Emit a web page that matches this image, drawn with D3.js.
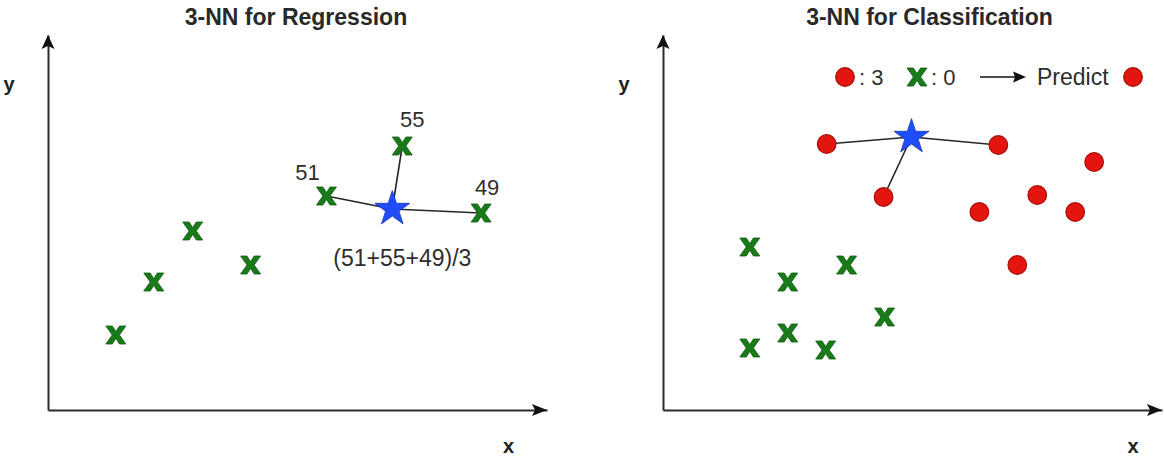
<!DOCTYPE html>
<html>
<head>
<meta charset="utf-8">
<script src="https://cdn.jsdelivr.net/npm/d3@7"></script>
<style>
  html, body { margin: 0; padding: 0; background: #fff; }
  svg { display: block; }
  text { font-family: "Liberation Sans", Arial, Helvetica, sans-serif; }
</style>
</head>
<body>
<svg id="chart" width="1164" height="458"></svg>
<script>
// ---- data -------------------------------------------------------------
const panelTitles = ["3-NN for Regression", "3-NN for Classification"];
const axisNames = ["x", "y"];

// regression panel: training points (green crosses) and the query (star)
const regX = [1.36, 2.12, 2.90, 4.06, 5.58, 7.10, 8.68];
const regY = [1.50, 2.56, 3.58, 2.90, 4.28, 5.28, 3.94];
const regNeighbours = [4, 5, 6];          // indices of the 3 nearest points
const regTargets = [51, 55, 49];          // target value of each neighbour
const regQuery = [6.90, 4.02];

// classification panel: class "x" (green) and class "o" (red)
const clsCrossX = [1.74, 2.50, 3.68, 4.44, 2.50, 1.74, 3.26];
const clsCrossY = [3.26, 2.56, 2.90, 1.86, 1.54, 1.24, 1.20];
const clsDotX = [3.28, 6.72, 4.42, 8.64, 7.50, 6.34, 8.26, 7.10];
const clsDotY = [5.32, 5.30, 4.26, 4.96, 4.30, 3.96, 3.96, 2.90];
const clsNeighbours = [0, 1, 2];          // indices of the 3 nearest red dots
const clsQuery = [4.98, 5.46];

// ---- styling ----------------------------------------------------------
const GREEN = "#187a18", GREEN_DARK = "#0f5c0f";
const RED = "#e3150e", RED_DARK = "#a80d08";
const BLUE = "#1f4dfb", BLUE_DARK = "#1535b8";
const AXIS = "#2a2a2a";
const TEXT = "#2e2e2e";

const svg = d3.select("#chart");

// bold "x" glyph-like cross, centred on 0,0
const crossPath = "M-10,-9H-3.6L0,-3.4L3.6,-9H10L3.6,0L10,9H3.6L0,3.4L-3.6,9H-10L-3.6,0Z";
const star = d3.symbol().type(d3.symbolStar).size(380)();

function drawCrosses(g, pts) {
  g.selectAll("path.cross").data(pts).join("path")
    .attr("class", "cross")
    .attr("d", crossPath)
    .attr("transform", d => `translate(${d[0]},${d[1]})`)
    .attr("fill", GREEN)
    .attr("stroke", GREEN_DARK)
    .attr("stroke-width", 0.8)
    .attr("stroke-linejoin", "round");
}

function drawDots(g, pts) {
  g.selectAll("circle.dot").data(pts).join("circle")
    .attr("class", "dot")
    .attr("cx", d => d[0]).attr("cy", d => d[1]).attr("r", 9.3)
    .attr("fill", RED).attr("stroke", RED_DARK).attr("stroke-width", 1.2);
}

function drawStar(g, p) {
  g.append("path").attr("d", star)
    .attr("transform", `translate(${p[0]},${p[1]})`)
    .attr("fill", BLUE).attr("stroke", BLUE_DARK).attr("stroke-width", 0.8);
}

function drawLinks(g, from, tos) {
  g.selectAll("line.link").data(tos).join("line")
    .attr("class", "link")
    .attr("x1", from[0]).attr("y1", from[1])
    .attr("x2", d => d[0]).attr("y2", d => d[1])
    .attr("stroke", "#262626").attr("stroke-width", 1.6);
}

// one panel with its own scales, axes, arrow heads and labels
function makePanel(left, title, titleAt, xLabelAt) {
  const x = d3.scaleLinear().domain([0, 10]).range([left, left + 499]);
  const y = d3.scaleLinear().domain([0, 7.5]).range([410, 35]);
  const g = svg.append("g");

  const xAxis = g.append("g").attr("transform", `translate(0,${y(0)})`)
    .call(d3.axisBottom(x).ticks(0).tickSize(0).tickSizeOuter(0));
  const yAxis = g.append("g").attr("transform", `translate(${x(0)},0)`)
    .call(d3.axisLeft(y).ticks(0).tickSize(0).tickSizeOuter(0));
  [xAxis, yAxis].forEach(a => {
    a.select(".domain").attr("stroke", AXIS).attr("stroke-width", 2);
    a.selectAll(".tick").remove();
  });

  // arrow heads at the far ends of both axes
  const xr = x.range()[1], yr = y.range()[1];
  g.append("path")
    .attr("d", `M${xr},${y(0)}L${xr - 15},${y(0) - 6}L${xr - 12},${y(0)}L${xr - 15},${y(0) + 6}Z`)
    .attr("fill", "#111");
  g.append("path")
    .attr("d", `M${x(0)},${yr}L${x(0) - 6.5},${yr + 14}L${x(0)},${yr + 11}L${x(0) + 6.5},${yr + 14}Z`)
    .attr("fill", "#111");

  g.append("text").text(title)
    .attr("x", x(titleAt)).attr("y", 25)
    .attr("text-anchor", "middle")
    .attr("font-size", 23).attr("font-weight", "bold").attr("fill", "#292929");

  g.append("text").text(axisNames[0])
    .attr("x", x(xLabelAt)).attr("y", 453)
    .attr("text-anchor", "middle")
    .attr("font-size", 20).attr("font-weight", "bold").attr("fill", "#222");
  g.append("text").text(axisNames[1])
    .attr("x", x(0) - 39).attr("y", 91)
    .attr("text-anchor", "middle")
    .attr("font-size", 20).attr("font-weight", "bold").attr("fill", "#222");

  return { g, x, y };
}

// ---- regression panel -------------------------------------------------
{
  const { g, x, y } = makePanel(48, panelTitles[0], 4.97, 9.23);
  const pts = regX.map((v, i) => [x(v), y(regY[i])]);
  const q = [x(regQuery[0]), y(regQuery[1])];
  const nb = regNeighbours.map(i => pts[i]);

  drawLinks(g, q, nb);
  drawCrosses(g, pts);
  drawStar(g, q);

  // neighbour target values next to their points
  const labelOffsets = [[-19, -16], [10, -19], [6, -18]];
  g.selectAll("text.val").data(regTargets).join("text")
    .attr("class", "val")
    .text(d => d)
    .attr("x", (d, i) => nb[i][0] + labelOffsets[i][0])
    .attr("y", (d, i) => nb[i][1] + labelOffsets[i][1])
    .attr("text-anchor", "middle")
    .attr("font-size", 22).attr("fill", TEXT);

  g.append("text")
    .text(`(${regTargets.join("+")})/${regTargets.length}`)
    .attr("x", q[0] + 10).attr("y", q[1] + 57)
    .attr("text-anchor", "middle")
    .attr("font-size", 23).attr("fill", TEXT);
}

// ---- classification panel ---------------------------------------------
{
  const { g, x, y } = makePanel(663, panelTitles[1], 5.34, 9.42);
  const crosses = clsCrossX.map((v, i) => [x(v), y(clsCrossY[i])]);
  const dots = clsDotX.map((v, i) => [x(v), y(clsDotY[i])]);
  const q = [x(clsQuery[0]), y(clsQuery[1])];
  const nb = clsNeighbours.map(i => dots[i]);

  drawLinks(g, q, nb);
  drawCrosses(g, crosses);
  drawDots(g, dots);
  drawStar(g, q);

  // vote summary: every neighbour is a red dot
  const redVotes = clsNeighbours.length;
  const greenVotes = 0;
  const ly = 77;
  const leg = g.append("g");
  drawDots(leg.append("g"), [[845, ly], [1133, ly]]);
  drawCrosses(leg.append("g"), [[917, ly]]);
  leg.append("text").text(`: ${redVotes}`)
    .attr("x", 859).attr("y", ly + 8).attr("font-size", 22).attr("fill", TEXT);
  leg.append("text").text(`: ${greenVotes}`)
    .attr("x", 931).attr("y", ly + 8).attr("font-size", 22).attr("fill", TEXT);
  leg.append("line")
    .attr("x1", 980).attr("y1", ly).attr("x2", 1016).attr("y2", ly)
    .attr("stroke", "#111").attr("stroke-width", 1.6);
  leg.append("path")
    .attr("d", `M1026,${ly}L1013,${ly - 5.5}L1015,${ly}L1013,${ly + 5.5}Z`)
    .attr("fill", "#111");
  leg.append("text").text("Predict")
    .attr("x", 1037).attr("y", ly + 8).attr("font-size", 23).attr("fill", TEXT);
}
</script>
</body>
</html>
